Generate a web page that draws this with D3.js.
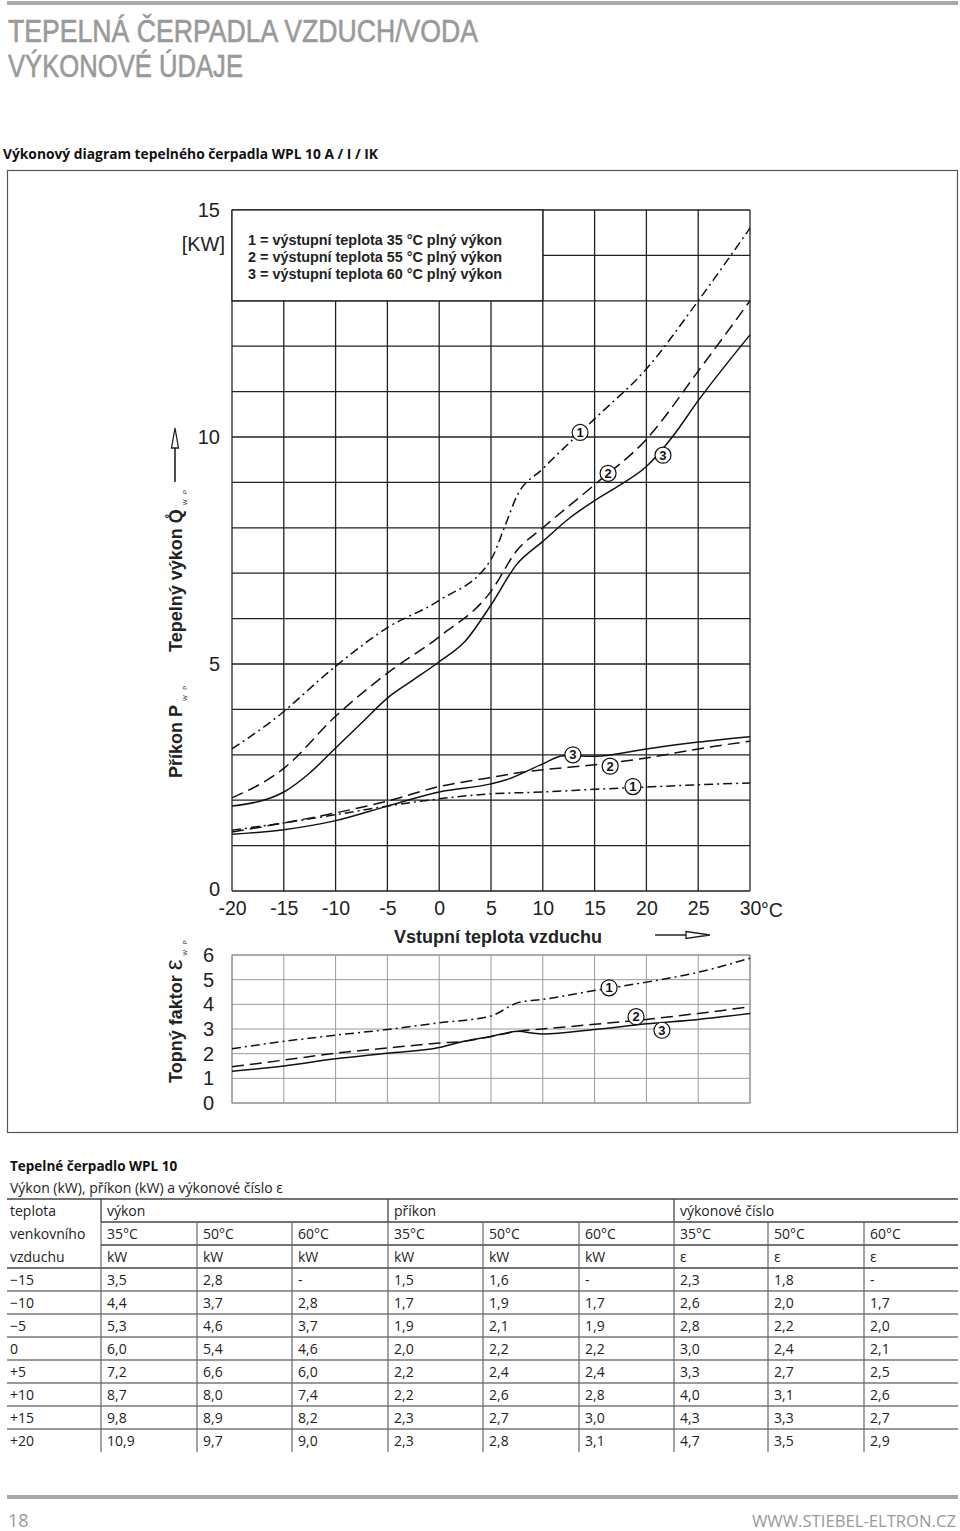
<!DOCTYPE html>
<html><head><meta charset="utf-8">
<script src="https://cdn.jsdelivr.net/npm/d3@7"></script>
<style>body{margin:0;background:#fff} svg{display:block}</style>
</head><body>
<svg id="c" width="960" height="1531"></svg>
<script>
// ---------- data ----------
const tempTicks = [-20,-15,-10,-5,0,5,10,15,20,25,30];
const kwTickLabels = [0,5,10,15];
const copTicks = [0,1,2,3,4,5,6];
// heating output Q (kW) vs inlet air temperature
const heat35 = [[-20,3.13],[-16,3.77],[-10,4.95],[-5,5.8],[0,6.4],[5,7.3],[6.2,7.95],[7.5,8.7],[10,9.3],[15,10.4],[20,11.5],[25,13.0],[30,14.6]];
const heat55 = [[-20,2.05],[-15,2.7],[-10,3.85],[-5,4.8],[0,5.6],[5,6.6],[7.5,7.5],[10,8.0],[15,8.95],[20,9.95],[25,11.45],[30,13.0]];
const heat60 = [[-20,1.87],[-15,2.18],[-12.5,2.6],[-10,3.15],[-7.5,3.7],[-5,4.25],[-2.5,4.65],[0,5.05],[2.5,5.5],[5,6.3],[7.5,7.2],[10,7.7],[12.5,8.2],[15,8.6],[17.5,8.95],[20,9.35],[22.5,10.0],[25,10.8],[30,12.25]];
// power input P (kW)
const power35 = [[-20,1.34],[-15,1.5],[-10,1.68],[-5,1.87],[0,2.03],[5,2.14],[10,2.18],[15,2.24],[20,2.29],[25,2.34],[30,2.38]];
const power55 = [[-20,1.3],[-15,1.5],[-10,1.72],[-5,1.98],[0,2.3],[5,2.5],[7.5,2.6],[10,2.67],[15,2.78],[20,2.93],[25,3.13],[30,3.3]];
const power60 = [[-20,1.25],[-15,1.35],[-10,1.55],[-5,1.87],[0,2.18],[5,2.36],[6.5,2.45],[10,2.8],[12,2.98],[15,2.97],[20,3.13],[25,3.28],[30,3.4]];
// COP
const cop35 = [[-20,2.2],[-15,2.5],[-10,2.75],[-5,2.98],[0,3.25],[5,3.53],[7.7,4.08],[10,4.2],[15,4.56],[20,4.9],[25,5.3],[30,5.87]];
const cop55 = [[-20,1.47],[-15,1.74],[-10,2.02],[-5,2.23],[0,2.43],[2.4,2.5],[5,2.7],[7.7,2.91],[10,3.0],[15,3.19],[20,3.39],[25,3.63],[30,3.9]];
const cop60 = [[-20,1.29],[-15,1.5],[-10,1.79],[-5,2.02],[0,2.25],[2.4,2.5],[5,2.7],[7.7,2.91],[8.9,2.84],[10,2.8],[15,2.98],[20,3.21],[25,3.39],[30,3.63]];
// circled curve labels [temp, value, text]
const heatLabels = [[13.6,10.1,"1"],[16.3,9.2,"2"],[21.6,9.6,"3"]];
const powerLabels = [[12.9,3.0,"3"],[16.5,2.75,"2"],[18.7,2.3,"1"]];
const copLabels = [[16.4,4.67,"1"],[19.0,3.5,"2"],[21.5,2.95,"3"]];
const legendLines = ["1 = výstupní teplota 35 °C plný výkon","2 = výstupní teplota 55 °C plný výkon","3 = výstupní teplota 60 °C plný výkon"];
const titleLines = ["TEPELNÁ ČERPADLA VZDUCH/VODA","VÝKONOVÉ ÚDAJE"];
// table
const rowLabels = ["−15","−10","−5","0","+5","+10","+15","+20"];
const vykon35 = [3.5,4.4,5.3,6.0,7.2,8.7,9.8,10.9];
const vykon50 = [2.8,3.7,4.6,5.4,6.6,8.0,8.9,9.7];
const vykon60 = [null,2.8,3.7,4.6,6.0,7.4,8.2,9.0];
const prikon35 = [1.5,1.7,1.9,2.0,2.2,2.2,2.3,2.3];
const prikon50 = [1.6,1.9,2.1,2.2,2.4,2.6,2.7,2.8];
const prikon60 = [null,1.7,1.9,2.2,2.4,2.8,3.0,3.1];
const cislo35 = [2.3,2.6,2.8,3.0,3.3,4.0,4.3,4.7];
const cislo50 = [1.8,2.0,2.2,2.4,2.7,3.1,3.3,3.5];
const cislo60 = [null,1.7,2.0,2.1,2.5,2.6,2.7,2.9];
const headGroups = ["výkon","příkon","výkonové číslo"];
const headTemps = ["35°C","50°C","60°C","35°C","50°C","60°C","35°C","50°C","60°C"];
const headUnits = ["kW","kW","kW","kW","kW","kW","ε","ε","ε"];

// ---------- drawing ----------
const svg = d3.select("#c");
const AR = "Liberation Sans, Arial, sans-serif";
const OS = "Open Sans, sans-serif";

// page decorations
svg.append("rect").attr("x",7).attr("y",1).attr("width",951).attr("height",4).attr("fill","#a8a8a8");
const title = svg.append("text").attr("font-family",AR).attr("font-size",30.5).attr("fill","#9a9a9a")
  .attr("stroke","#9a9a9a").attr("stroke-width",0.6);
title.append("tspan").attr("x",8).attr("y",42).attr("textLength",470).attr("lengthAdjust","spacingAndGlyphs").text(titleLines[0]);
title.append("tspan").attr("x",8).attr("y",77).attr("textLength",235).attr("lengthAdjust","spacingAndGlyphs").text(titleLines[1]);
svg.append("text").attr("x",3).attr("y",159).attr("font-family",OS).attr("font-weight","bold").attr("font-size",14).attr("fill","#111")
  .attr("textLength",375).attr("lengthAdjust","spacingAndGlyphs").text("Výkonový diagram tepelného čerpadla WPL 10 A / I / IK");
svg.append("rect").attr("x",7.5).attr("y",170.5).attr("width",950).attr("height",962).attr("fill","none").attr("stroke","#555").attr("stroke-width",1.2);

// scales
const x = d3.scaleLinear().domain([-20,30]).range([232,750]);
const yU = d3.scaleLinear().domain([0,15]).range([891,210]);
const yL = d3.scaleLinear().domain([0,6]).range([1103,955]);

// ---- upper chart grid ----
const gU = svg.append("g");
gU.append("g").selectAll("line").data(yU.ticks(15)).join("line")
  .attr("x1",x(-20)).attr("x2",x(30)).attr("y1",d=>yU(d)).attr("y2",d=>yU(d))
  .attr("stroke","#222").attr("stroke-width",1.3);
gU.append("g").selectAll("line").data(tempTicks).join("line")
  .attr("x1",d=>x(d)).attr("x2",d=>x(d)).attr("y1",yU(15)).attr("y2",yU(0))
  .attr("stroke","#222").attr("stroke-width",1.3);
// legend box
gU.append("rect").attr("x",x(-20)).attr("y",yU(15)).attr("width",x(10)-x(-20)).attr("height",yU(13)-yU(15))
  .attr("fill","#fff").attr("stroke","#222").attr("stroke-width",1.3);
gU.append("g").selectAll("text").data(legendLines).join("text")
  .attr("x",248).attr("y",(d,i)=>245+i*17).attr("font-family",AR).attr("font-weight","bold").attr("font-size",14).attr("fill","#222")
  .attr("textLength",254).attr("lengthAdjust","spacingAndGlyphs").text(d=>d);

// y labels upper
const yAxU = d3.axisLeft(yU).tickValues(kwTickLabels).tickSize(0).tickPadding(12);
const ga = svg.append("g").attr("transform",`translate(${x(-20)},0)`).call(yAxU);
ga.select(".domain").remove();
ga.selectAll("text").attr("font-family",AR).attr("font-size",20).attr("fill","#222");
ga.selectAll(".tick").filter(d=>d===0).select("text").attr("dy","0.2em");
svg.append("text").attr("x",225).attr("y",251).attr("text-anchor","end").attr("font-family",AR).attr("font-size",20).attr("fill","#222").text("[KW]");

// x axis labels
const xAx = d3.axisBottom(x).tickValues(tempTicks).tickSize(0).tickPadding(10).tickFormat(d=>String(d));
const gx = svg.append("g").attr("transform",`translate(0,${yU(0)})`).call(xAx);
gx.select(".domain").remove();
gx.selectAll("text").attr("font-family",AR).attr("font-size",19.5).attr("fill","#222");
svg.append("text").attr("x",761).attr("y",917).attr("font-family",AR).attr("font-size",19.5).attr("fill","#222").text("°C");
svg.append("text").attr("x",498).attr("y",943).attr("text-anchor","middle").attr("font-family",AR).attr("font-weight","bold").attr("font-size",18).attr("fill","#222").text("Vstupní teplota vzduchu");
// x arrow
svg.append("line").attr("x1",655).attr("x2",690).attr("y1",935).attr("y2",935).attr("stroke","#222").attr("stroke-width",1.5);
svg.append("path").attr("d","M686,931.5 L710,935 L686,938.5 Z").attr("fill","#fff").attr("stroke","#222").attr("stroke-width",1.3);

// rotated y titles
function rotText(cx, cy, parts){
  const t = svg.append("text").attr("transform",`translate(${cx},${cy}) rotate(-90)`).attr("font-family",AR).attr("font-weight","bold").attr("fill","#222");
  parts.forEach(p=>{
    t.append("tspan").attr("font-size",p.fs).attr("dy",p.dy||0).attr("dx",p.dx||0).attr("font-weight",p.fw||"bold").attr("letter-spacing",p.ls||0).text(p.t);
  });
}
rotText(182,778,[{t:"Příkon P",fs:18},{t:"W P",fs:6,dy:5,dx:4,fw:"normal",ls:2}]);
rotText(182,652,[{t:"Tepelný výkon Q̊",fs:18},{t:"W P",fs:6,dy:5,dx:4,fw:"normal",ls:2}]);
rotText(182,1083,[{t:"Topný faktor ",fs:18},{t:"ε",fs:24,fw:"normal"},{t:"W P",fs:6,dy:5,dx:4,fw:"normal",ls:2}]);
svg.append("line").attr("x1",175).attr("x2",175).attr("y1",482).attr("y2",446).attr("stroke","#222").attr("stroke-width",1.6);
svg.append("path").attr("d","M171.5,448 L175,428 L178.5,448 Z").attr("fill","#fff").attr("stroke","#222").attr("stroke-width",1.3);

// ---- lower chart ----
const gL = svg.append("g");
gL.append("g").selectAll("line").data(copTicks).join("line")
  .attr("x1",x(-20)).attr("x2",x(30)).attr("y1",d=>yL(d)).attr("y2",d=>yL(d))
  .attr("stroke","#9a9a9a").attr("stroke-width",1);
gL.append("g").selectAll("line").data(tempTicks).join("line")
  .attr("x1",d=>x(d)).attr("x2",d=>x(d)).attr("y1",yL(6)).attr("y2",yL(0))
  .attr("stroke","#9a9a9a").attr("stroke-width",1);
gL.append("rect").attr("x",x(-20)).attr("y",yL(6)).attr("width",x(30)-x(-20)).attr("height",yL(0)-yL(6)).attr("fill","none").attr("stroke","#888").attr("stroke-width",1);
const yAxL = d3.axisLeft(yL).tickValues(copTicks).tickSize(0).tickPadding(18).tickFormat(d3.format("d"));
const gal = svg.append("g").attr("transform",`translate(${x(-20)},0)`).call(yAxL);
gal.select(".domain").remove();
gal.selectAll("text").attr("font-family",AR).attr("font-size",20).attr("fill","#222");

// ---- curves ----
const styles = {"1":{dash:"9,4,2,4"}, "2":{dash:"12,6"}, "3":{dash:null}};
function curve(data, ys, key){
  const ln = d3.line().x(d=>x(d[0])).y(d=>ys(d[1])).curve(d3.curveMonotoneX);
  svg.append("path").attr("d",ln(data)).attr("fill","none").attr("stroke","#111").attr("stroke-width",1.5)
    .attr("stroke-dasharray",styles[key].dash);
}
curve(heat35,yU,"1"); curve(heat55,yU,"2"); curve(heat60,yU,"3");
curve(power35,yU,"1"); curve(power55,yU,"2"); curve(power60,yU,"3");
curve(cop35,yL,"1"); curve(cop55,yL,"2"); curve(cop60,yL,"3");

function labels(arr, ys){
  const g = svg.append("g").selectAll("g").data(arr).join("g").attr("transform",d=>`translate(${x(d[0])},${ys(d[1])})`);
  g.append("circle").attr("r",8).attr("fill","#fff").attr("stroke","#111").attr("stroke-width",1.2);
  g.append("text").attr("text-anchor","middle").attr("dy","0.36em").attr("font-family",AR).attr("font-weight","bold").attr("font-size",13).attr("fill","#111").text(d=>d[2]);
}
labels(heatLabels,yU); labels(powerLabels,yU); labels(copLabels,yL);

// ---------- table ----------
svg.append("text").attr("x",10).attr("y",1171).attr("font-family",OS).attr("font-weight","bold").attr("font-size",13.5).attr("fill","#111").text("Tepelné čerpadlo WPL 10");
svg.append("text").attr("x",10).attr("y",1193).attr("font-family",OS).attr("font-size",14).attr("fill","#222").text("Výkon (kW), příkon (kW) a výkonové číslo ε");
const colX = [101,197,292,388,483,579,674,768,864];
const tTop = 1199, rh = 23, tLeft = 7, tRight = 958;
const tbl = svg.append("g");
const LC = "#444";
// horizontal lines
tbl.append("line").attr("x1",tLeft).attr("x2",tRight).attr("y1",tTop).attr("y2",tTop).attr("stroke",LC).attr("stroke-width",1.6);
[1,2].forEach(i=>tbl.append("line").attr("x1",colX[0]).attr("x2",tRight).attr("y1",tTop+i*rh).attr("y2",tTop+i*rh).attr("stroke",LC).attr("stroke-width",1.4));
tbl.append("line").attr("x1",tLeft).attr("x2",tRight).attr("y1",tTop+3*rh).attr("y2",tTop+3*rh).attr("stroke",LC).attr("stroke-width",1.6);
tbl.append("g").selectAll("line").data(rowLabels.slice(0,-1)).join("line")
  .attr("x1",tLeft).attr("x2",tRight).attr("y1",(d,i)=>tTop+(4+i)*rh).attr("y2",(d,i)=>tTop+(4+i)*rh).attr("stroke","#777").attr("stroke-width",1.3);
// vertical lines
[0,3,6].forEach(c=>tbl.append("line").attr("x1",colX[c]).attr("x2",colX[c]).attr("y1",tTop).attr("y2",tTop+rh).attr("stroke",LC).attr("stroke-width",1.3));
colX.forEach(cx=>tbl.append("line").attr("x1",cx).attr("x2",cx).attr("y1",tTop+rh).attr("y2",tTop+11*rh).attr("stroke","#666").attr("stroke-width",1.2));
const tt = (tx,ty,s)=>tbl.append("text").attr("x",tx).attr("y",ty).attr("font-family",OS).attr("font-size",14).attr("fill","#222").text(s);
["teplota","venkovního","vzduchu"].forEach((s,i)=>tt(10,tTop+i*rh+17,s));
headGroups.forEach((s,i)=>tt(colX[i*3]+6,tTop+17,s));
headTemps.forEach((s,i)=>tt(colX[i]+6,tTop+rh+17,s));
headUnits.forEach((s,i)=>tt(colX[i]+6,tTop+2*rh+17,s));
const cols = [vykon35,vykon50,vykon60,prikon35,prikon50,prikon60,cislo35,cislo50,cislo60];
const fmt = v => v==null ? "-" : d3.format(".1f")(v).replace(".",",");
rowLabels.forEach((r,ri)=>{
  const ty = tTop+(3+ri)*rh+17;
  tt(10,ty,r);
  cols.forEach((col,ci)=>tt(colX[ci]+6,ty,fmt(col[ri])));
});

// footer
svg.append("rect").attr("x",7).attr("y",1495).attr("width",951).attr("height",4).attr("fill","#a8a8a8");
svg.append("text").attr("x",8).attr("y",1527).attr("font-family",OS).attr("font-size",18).attr("fill","#999").text("18");
svg.append("text").attr("x",752).attr("y",1527).attr("font-family",OS).attr("font-size",17).attr("fill","#999")
  .attr("textLength",204).attr("lengthAdjust","spacingAndGlyphs").text("WWW.STIEBEL-ELTRON.CZ");
</script>
</body></html>
